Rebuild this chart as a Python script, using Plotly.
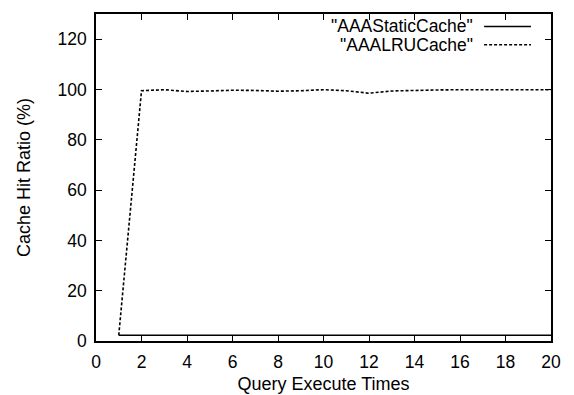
import plotly.graph_objects as go

x_static = [1, 2, 3, 4, 5, 6, 7, 8, 9, 10, 11, 12, 13, 14, 15, 16, 17, 18, 19, 20]
y_static = [2.3] * 20

x_lru = [1, 2, 3, 4, 5, 6, 7, 8, 9, 10, 11, 12, 13, 14, 15, 16, 17, 18, 19, 20]
y_lru = [2.3, 99.5, 99.9, 99.2, 99.4, 99.7, 99.6, 99.3, 99.5, 99.9, 99.5, 98.5,
         99.4, 99.7, 99.8, 99.9, 99.9, 99.9, 99.9, 99.9]

names = ['"AAAStaticCache"', '"AAALRUCache"']
x_ticks = [0, 2, 4, 6, 8, 10, 12, 14, 16, 18, 20]
y_ticks = [0, 20, 40, 60, 80, 100, 120]

FONT = "Liberation Sans, Arial, sans-serif"
FS = 17.5

fig = go.Figure()
fig.add_trace(go.Scatter(x=x_static, y=y_static, mode="lines", name=names[0],
                         line=dict(color="black", width=1.6), showlegend=False))
fig.add_trace(go.Scatter(x=x_lru, y=y_lru, mode="lines", name=names[1],
                         line=dict(color="black", width=1.6, dash="3px,2px"), showlegend=False))

# gnuplot-style legend: text right-aligned, sample on the right
leg_y = [0.962, 0.906]
dashes = ["solid", "3px,2px"]
for nm, yy, ds in zip(names, leg_y, dashes):
    fig.add_annotation(x=0.832, y=yy, xref="paper", yref="paper", text=nm,
                       showarrow=False, xanchor="right", yanchor="middle",
                       font=dict(family=FONT, size=FS, color="black"))
    fig.add_shape(type="line", xref="paper", yref="paper", x0=0.853, x1=0.956,
                  y0=yy, y1=yy, line=dict(color="black", width=1.6, dash=ds))

axis_common = dict(showgrid=False, zeroline=False, showline=True, linecolor="black",
                   linewidth=1.5, mirror="ticks", ticks="inside", ticklen=6,
                   tickwidth=1, tickcolor="black",
                   tickfont=dict(family=FONT, size=FS, color="black"))

fig.update_layout(
    width=574, height=395,
    margin=dict(l=88, r=31, t=4, b=62),
    paper_bgcolor="white", plot_bgcolor="white",
    font=dict(family=FONT, size=FS, color="black"),
    xaxis=dict(range=[0, 20], tickvals=x_ticks, ticktext=[str(v) for v in x_ticks],
               ticklabelstandoff=4,
               title=dict(text="Query Execute Times", font=dict(family=FONT, size=18), standoff=7),
               **axis_common),
    yaxis=dict(range=[0, 130], tickvals=y_ticks, ticktext=[str(v) for v in y_ticks],
               ticklabelstandoff=4,
               title=dict(text="Cache Hit Ratio (%)", font=dict(family=FONT, size=18), standoff=22),
               **axis_common),
)

fig.write_html("out.html")
